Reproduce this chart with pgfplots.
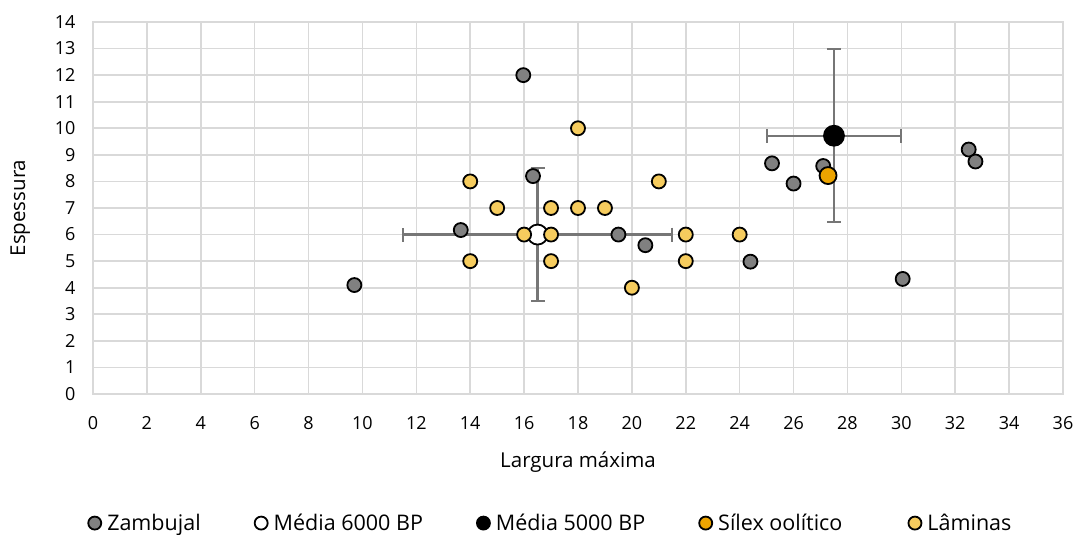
\documentclass[border=0pt]{standalone}
\usepackage{fontspec}
\setmainfont{Open Sans}
\usepackage{pgfplots}
\pgfplotsset{compat=1.18}
\definecolor{zamb}{HTML}{808080}
\definecolor{silex}{HTML}{EDA400}
\definecolor{lam}{HTML}{F6CC5E}
\definecolor{gridc}{HTML}{D9D9D9}
\definecolor{errc}{HTML}{767676}
\begin{document}
\begin{tikzpicture}[x=1pt,y=1pt]
\path[use as bounding box] (0,0) rectangle (1077,535);
\begin{axis}[
  at={(93pt,141pt)}, anchor=south west,
  scale only axis, width=970pt, height=372pt,
  xmin=0, xmax=36, ymin=0, ymax=14,
  xtick={0,2,...,36}, ytick={0,1,...,14},
  grid=major, major grid style={gridc, line width=1.6pt},
  axis line style={gridc, line width=1.6pt},
  tick style={draw=none},
  font=\fontsize{20.5}{24}\selectfont,
  tick label style={font=\fontsize{18}{21}\selectfont},
  /pgf/number format/assume math mode=true,
  xticklabel style={yshift=-19pt},
  yticklabel style={xshift=-14pt},
  xlabel={Largura máxima}, ylabel={Espessura},
  xlabel style={at={(axis description cs:0.5,0)}, anchor=center, yshift=-68pt},
  ylabel style={at={(axis description cs:-0.075,0.5)}, anchor=center},
  legend columns=5,
  legend image post style={mark size=6.5pt},
  legend style={draw=none, fill=none, at={(-0.0082,-0.347)}, anchor=west,
    font=\fontsize{21.5}{25}\selectfont,
    /tikz/every odd column/.append style={column sep=4pt},
    /tikz/every even column/.append style={column sep=52pt}},
  legend cell align=left,
  every error bar/.append style={line width=2.2pt, draw=errc},
]
% Zambujal
\addplot[only marks, mark=*, mark size=7pt, mark options={fill=zamb, draw=black, line width=1.8pt}]
coordinates {(9.7,4.1) (13.65,6.17) (15.97,12.0) (16.33,8.2) (19.5,6.0) (20.5,5.6) (24.4,4.98) (25.2,8.68) (26.0,7.92) (27.1,8.58) (30.05,4.33) (32.5,9.2) (32.75,8.75)};
\addlegendentry{Zambujal}
% Media 6000 BP
\addplot[only marks, line width=2.2pt, draw=errc, mark=*, mark size=10pt, mark options={fill=white, draw=black, line width=1.8pt},
  error bars/.cd, x dir=both, x explicit, y dir=both, y explicit,
  error mark=|,
  error bar style={line width=2.2pt, draw=errc},
  error mark options={draw=errc, line width=2.2pt, mark size=7pt}]
coordinates {(16.5,6.0) +- (5,2.5)};
\addlegendentry{Média 6000 BP}
% Media 5000 BP
\addplot[only marks, line width=2.2pt, draw=errc, mark=*, mark size=10pt, mark options={fill=black, draw=black, line width=1.8pt},
  error bars/.cd, x dir=both, x explicit, y dir=both, y explicit,
  error mark=|,
  error bar style={line width=2.2pt, draw=errc},
  error mark options={draw=errc, line width=2.2pt, mark size=7pt}]
coordinates {(27.5,9.72) +- (2.5,3.25)};
\addlegendentry{Média 5000 BP}
% Silex
\addplot[only marks, mark=*, mark size=8.5pt, mark options={fill=silex, draw=black, line width=1.8pt}]
coordinates {(27.28,8.22)};
\addlegendentry{Sílex oolítico\rule{12pt}{0pt}}
% Laminas
\addplot[only marks, mark=*, mark size=7pt, mark options={fill=lam, draw=black, line width=1.8pt}]
coordinates {(14,8) (14,5) (15,7) (16,6) (17,7) (17,6) (17,5) (18,10) (18,7) (19,7) (20,4) (21,8) (22,6) (22,5) (24,6)};
\addlegendentry{Lâminas}
\end{axis}
\end{tikzpicture}
\end{document}
